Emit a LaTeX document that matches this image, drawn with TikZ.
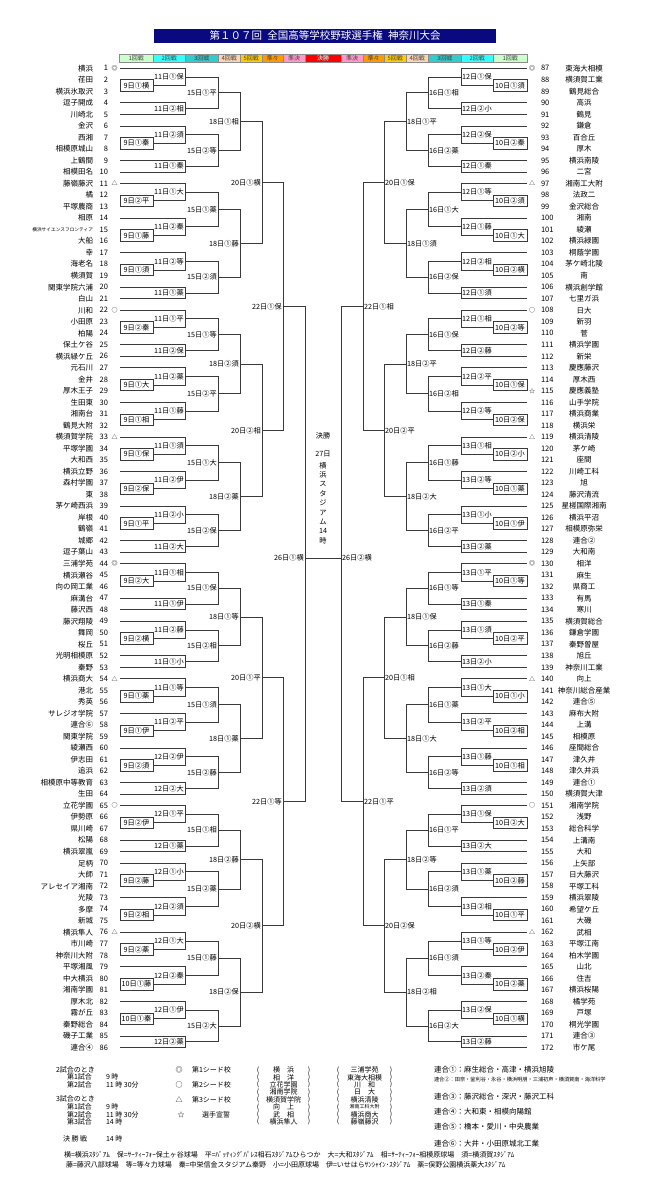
\documentclass[tikz,border=0pt]{standalone}
\usepackage{fontspec}
\setmainfont{Noto Sans CJK JP}
\usetikzlibrary{calc}

\definecolor{titleblue}{HTML}{0A0A80}
\definecolor{lineclr}{HTML}{3A3A3A}
\definecolor{rdone}{HTML}{CCFFCC}
\definecolor{rdtwo}{HTML}{33FFFF}
\definecolor{rdthree}{HTML}{33CCCC}
\definecolor{rdfour}{HTML}{FCD5B4}
\definecolor{rdfive}{HTML}{FFCC00}
\definecolor{rdqf}{HTML}{FF9900}
\definecolor{rdsf}{HTML}{FF99CC}
\definecolor{rdfinal}{HTML}{FF0000}

\tikzset{
  every node/.style={font=\fontsize{7.5}{8}\selectfont, inner sep=0.8pt},
  bline/.style={draw=lineclr, line width=0.8pt},
  teamL/.style={anchor=east},
  teamR/.style={anchor=center},
  numL/.style={anchor=east},
  numR/.style={anchor=west},
  seedmk/.style={font=\fontsize{6}{6}\selectfont, inner sep=0pt},
  labL/.style={anchor=east, inner sep=1pt, font=\fontsize{7.2}{8}\selectfont},
  labR/.style={anchor=west, inner sep=1pt, font=\fontsize{7.2}{8}\selectfont},
  boxlab/.style={font=\fontsize{7.2}{8}\selectfont},
  rdcell/.style={draw=black!45, line width=0.4pt, anchor=west, minimum height=8pt,
    inner sep=0pt, text=black!75, font=\fontsize{6}{6}\selectfont},
  lgd/.style={anchor=west, font=\fontsize{7}{7}\selectfont},
}

% first round: box between two teams
\newcommand{\firstbox}[5]{%
  \draw[bline] (#1) -- (#1 -| #3) -- (#2 -| #3) -- (#2) -- cycle;
  \coordinate (#4) at ($(#1 -| #3)!0.5!(#2 -| #3)$);
  \node[boxlab] (#4t) at ($(#1)!0.5!(#2 -| #3)$) {#5};
}
% later rounds
\newcommand{\matchup}[6]{%
  \draw[bline] (#2) -- (#2 -| #4) -- (#3 -| #4) -- (#3);
  \coordinate (#5) at ($(#2 -| #4)!0.5!(#3 -| #4)$);
  \node[lab#1] (#5t) at (#5) {#6};
}
% block: seed + first round pair, then a second round pair
\newcommand{\blkSP}[7]{%
  \edef\tmA{\number#2}%
  \edef\tmB{\the\numexpr#2+1\relax}%
  \edef\tmC{\the\numexpr#2+2\relax}%
  \edef\tmD{\the\numexpr#2+3\relax}%
  \edef\tmE{\the\numexpr#2+4\relax}%
  \firstbox{s#1\tmB}{s#1\tmC}{#1c1}{#7a}{#3}%
  \matchup{#1}{s#1\tmA}{#7a}{#1c2}{#7b}{#4}%
  \matchup{#1}{s#1\tmD}{s#1\tmE}{#1c2}{#7c}{#5}%
  \matchup{#1}{#7b}{#7c}{#1c3}{#7}{#6}%
}
% block: two units with a first round pair each
\newcommand{\blkSS}[8]{%
  \edef\tmA{\number#2}%
  \edef\tmB{\the\numexpr#2+1\relax}%
  \edef\tmC{\the\numexpr#2+2\relax}%
  \edef\tmD{\the\numexpr#2+3\relax}%
  \edef\tmE{\the\numexpr#2+4\relax}%
  \edef\tmF{\the\numexpr#2+5\relax}%
  \firstbox{s#1\tmB}{s#1\tmC}{#1c1}{#7a}{#3}%
  \matchup{#1}{s#1\tmA}{#7a}{#1c2}{#7b}{#4}%
  \firstbox{s#1\tmE}{s#1\tmF}{#1c1}{#7c}{#5}%
  \matchup{#1}{s#1\tmD}{#7c}{#1c2}{#7d}{#6}%
  \matchup{#1}{#7b}{#7d}{#1c3}{#7}{#8}%
}

\begin{document}
\begin{tikzpicture}[x=1pt,y=-1pt]

      \fill[white] (0,0) rectangle (655,1200);
      \useasboundingbox (0,0) rectangle (655,1200);

      % title and round header
      \node[fill=titleblue, text=white, minimum width=342pt, minimum height=14pt,
        inner sep=0pt, font=\fontsize{10.5}{11}\selectfont] (title) at (325,36)
        {第１０７回\hspace{0.5em}全国高等学校野球選手権\hspace{0.5em}神奈川大会};

      \foreach \x/\w/\c/\t [count=\i] in {119/34/rdone/1回戦, 153/32/rdtwo/2回戦,
          185/33/rdthree/3回戦, 218/22/rdfour/4回戦, 240/22/rdfive/5回戦,
          262/21/rdqf/準々, 283/22/rdsf/準決, 305/36/rdfinal/決勝,
          341/22/rdsf/準決, 363/21/rdqf/準々, 384/22/rdfive/5回戦,
          406/22/rdfour/4回戦, 428/33/rdthree/3回戦, 461/32/rdtwo/2回戦,
          493/34/rdone/1回戦}
        \node[rdcell, fill=\c, minimum width=\w pt] (hd\i) at (\x,58) {\t};
      \node[font=\fontsize{6}{6}\selectfont, text=white] (hdf) at (hd8) {決勝};

      % bracket columns
      \foreach \k/\xl/\xr in {1/153/493, 2/185/461, 3/218/428, 4/240/406,
          5/262/384, 6/283/363, 7/305/341} {
        \coordinate (Lc\k) at (\xl,0);
        \coordinate (Rc\k) at (\xr,0);
      }

      % teams, left half
      \foreach \n/\tm in {1/横浜, 2/荏田, 3/横浜氷取沢, 4/逗子開成, 5/川崎北, 6/金沢,
          7/西湘, 8/相模原城山, 9/上鶴間, 10/相模田名, 11/藤嶺藤沢, 12/橘, 13/平塚農商,
          14/相原, 15/{\fontsize{4.7}{5}\selectfont 横浜サイエンスフロンティア}, 16/大船,
          17/幸, 18/海老名, 19/横須賀, 20/関東学院六浦, 21/白山, 22/川和, 23/小田原,
          24/柏陽, 25/保土ケ谷, 26/横浜緑ケ丘, 27/元石川, 28/金井, 29/厚木王子,
          30/生田東, 31/湘南台, 32/鶴見大附, 33/横須賀学院, 34/平塚学園, 35/大和西,
          36/横浜立野, 37/森村学園, 38/東, 39/茅ケ崎西浜, 40/岸根, 41/鶴嶺, 42/城郷,
          43/逗子葉山, 44/三浦学苑, 45/横浜瀬谷, 46/向の岡工業, 47/麻溝台, 48/藤沢西,
          49/藤沢翔陵, 50/舞岡, 51/桜丘, 52/光明相模原, 53/秦野, 54/横浜商大, 55/港北,
          56/秀英, 57/サレジオ学院, 58/連合⑥, 59/関東学院, 60/綾瀬西, 61/伊志田,
          62/追浜, 63/相模原中等教育, 64/生田, 65/立花学園, 66/伊勢原, 67/県川崎,
          68/松陽, 69/横浜翠嵐, 70/足柄, 71/大師, 72/アレセイア湘南, 73/光陵, 74/多摩,
          75/新城, 76/横浜隼人, 77/市川崎, 78/神奈川大附, 79/平塚湘風, 80/中大横浜,
          81/湘南学園, 82/厚木北, 83/霧が丘, 84/秦野総合, 85/磯子工業, 86/連合④} {
        \pgfmathsetmacro\yy{68.3+(\n-1)*11.52}
        \node[teamL] (tL\n) at (94,\yy) {\tm};
        \node[numL] (nL\n) at (109,\yy) {\n};
        \coordinate (sL\n) at (120,\yy);
      }

      % teams, right half
      \foreach \n/\tm in {87/東海大相模, 88/横須賀工業, 89/鶴見総合, 90/高浜, 91/鶴見,
          92/鎌倉, 93/百合丘, 94/厚木, 95/横浜南陵, 96/二宮, 97/湘南工大附, 98/法政二,
          99/金沢総合, 100/湘南, 101/綾瀬, 102/横浜緑園, 103/桐蔭学園, 104/茅ケ崎北陵,
          105/南, 106/横浜創学館, 107/七里ガ浜, 108/日大, 109/新羽, 110/菅, 111/横浜学園,
          112/新栄, 113/慶應藤沢, 114/厚木西, 115/慶應義塾, 116/山手学院, 117/横浜商業,
          118/横浜栄, 119/横浜清陵, 120/茅ケ崎, 121/座間, 122/川崎工科, 123/旭,
          124/藤沢清流, 125/星槎国際湘南, 126/横浜平沼, 127/相模原弥栄, 128/連合②,
          129/大和南, 130/相洋, 131/麻生, 132/県商工, 133/有馬, 134/寒川, 135/横須賀総合,
          136/鎌倉学園, 137/秦野曽屋, 138/旭丘, 139/神奈川工業, 140/向上,
          141/神奈川総合産業, 142/連合⑤, 143/麻布大附, 144/上溝, 145/相模原, 146/座間総合,
          147/津久井, 148/津久井浜, 149/連合①, 150/横須賀大津, 151/湘南学院, 152/浅野,
          153/総合科学, 154/上溝南, 155/大和, 156/上矢部, 157/日大藤沢, 158/平塚工科,
          159/横浜翠陵, 160/希望ケ丘, 161/大磯, 162/武相, 163/平塚江南, 164/柏木学園,
          165/山北, 166/住吉, 167/横浜桜陽, 168/橘学苑, 169/戸塚, 170/桐光学園,
          171/連合③, 172/市ケ尾} {
        \pgfmathsetmacro\yy{68.3+(\n-87)*11.52}
        \node[teamR] (tR\n) at (584,\yy) {\tm};
        \node[numR] (nR\n) at (540,\yy) {\n};
        \coordinate (sR\n) at (527,\yy);
      }

      % seed marks
      \foreach \n/\m in {1/◎, 11/△, 22/○, 33/△, 44/◎, 54/△, 65/○, 76/△} {
        \pgfmathsetmacro\yy{68.3+(\n-1)*11.52}
        \node[seedmk] (mkL\n) at (114.5,\yy) {\m};
      }
      \foreach \n/\m in {87/◎, 97/△, 108/○, 115/☆, 119/△, 130/◎, 140/△, 151/○, 162/△} {
        \pgfmathsetmacro\yy{68.3+(\n-87)*11.52}
        \node[seedmk] (mkR\n) at (532,\yy) {\m};
      }

      % left half
      \blkSP{L}{1}{9日①横}{11日①保}{11日②相}{15日①平}{A1}
      \blkSP{L}{6}{9日①秦}{11日②須}{11日①秦}{15日②等}{A2}
      \matchup{L}{A1}{A2}{Lc4}{A12}{18日①相}
      \blkSS{L}{11}{9日②平}{11日①大}{9日①藤}{11日②秦}{A3}{15日①薬}
      \blkSP{L}{17}{9日①須}{11日②等}{11日①薬}{15日②須}{A4}
      \matchup{L}{A3}{A4}{Lc4}{A34}{18日①藤}
      \matchup{L}{A12}{A34}{Lc5}{AA}{20日①横}

      \blkSP{L}{22}{9日②秦}{11日①平}{11日②保}{15日①等}{B1}
      \blkSS{L}{27}{9日①大}{11日②薬}{9日①相}{11日①藤}{B2}{15日②平}
      \matchup{L}{B1}{B2}{Lc4}{B12}{18日②須}
      \blkSS{L}{33}{9日①保}{11日①須}{9日②保}{11日②伊}{B3}{15日①大}
      \blkSP{L}{39}{9日①平}{11日②小}{11日②大}{15日②保}{B4}
      \matchup{L}{B3}{B4}{Lc4}{B34}{18日②薬}
      \matchup{L}{B12}{B34}{Lc5}{BB}{20日②相}
      \matchup{L}{AA}{BB}{Lc6}{QL1}{22日①保}

      \blkSP{L}{44}{9日②大}{11日①相}{11日①伊}{15日①保}{C1}
      \blkSP{L}{49}{9日②横}{11日②藤}{11日①小}{15日②相}{C2}
      \matchup{L}{C1}{C2}{Lc4}{C12}{18日①等}
      \blkSS{L}{54}{9日①薬}{11日①等}{9日①伊}{11日②平}{C3}{15日①須}
      \blkSP{L}{60}{9日②須}{12日②伊}{12日②大}{15日②藤}{C4}
      \matchup{L}{C3}{C4}{Lc4}{C34}{18日①薬}
      \matchup{L}{C12}{C34}{Lc5}{CC}{20日①平}

      \blkSP{L}{65}{9日②伊}{12日①平}{12日①薬}{15日①相}{D1}
      \blkSS{L}{70}{9日②藤}{12日①小}{9日②相}{12日②須}{D2}{15日②薬}
      \matchup{L}{D1}{D2}{Lc4}{D12}{18日②藤}
      \blkSS{L}{76}{9日②薬}{12日①大}{10日①藤}{12日②秦}{D3}{15日①藤}
      \blkSP{L}{82}{10日①秦}{12日①伊}{12日②薬}{15日②大}{D4}
      \matchup{L}{D3}{D4}{Lc4}{D34}{18日②保}
      \matchup{L}{D12}{D34}{Lc5}{DD}{20日②横}
      \matchup{L}{CC}{DD}{Lc6}{QL2}{22日①等}

      % right half
      \blkSP{R}{87}{10日①須}{12日①保}{12日②小}{16日①相}{E1}
      \blkSP{R}{92}{10日②秦}{12日②保}{12日①秦}{16日②薬}{E2}
      \matchup{R}{E1}{E2}{Rc4}{E12}{18日①平}
      \blkSS{R}{97}{10日②須}{12日①等}{10日①大}{12日①藤}{E3}{16日①大}
      \blkSP{R}{103}{10日②横}{12日②相}{12日①須}{16日②保}{E4}
      \matchup{R}{E3}{E4}{Rc4}{E34}{18日①須}
      \matchup{R}{E12}{E34}{Rc5}{EE}{20日①保}

      \blkSP{R}{108}{10日②等}{12日①相}{12日②藤}{16日①保}{F1}
      \blkSS{R}{113}{10日①保}{12日②平}{10日②保}{12日②等}{F2}{16日②相}
      \matchup{R}{F1}{F2}{Rc4}{F12}{18日②平}
      \blkSS{R}{119}{10日②小}{13日①相}{10日①薬}{13日②等}{F3}{16日①藤}
      \blkSP{R}{125}{10日①伊}{13日①小}{13日②薬}{16日②平}{F4}
      \matchup{R}{F3}{F4}{Rc4}{F34}{18日②大}
      \matchup{R}{F12}{F34}{Rc5}{FF}{20日②平}
      \matchup{R}{EE}{FF}{Rc6}{QR1}{22日①相}

      \blkSP{R}{130}{10日①等}{13日①平}{13日①秦}{16日①等}{G1}
      \blkSP{R}{135}{10日②平}{13日①須}{13日②小}{16日②藤}{G2}
      \matchup{R}{G1}{G2}{Rc4}{G12}{18日①保}
      \blkSS{R}{140}{10日①小}{13日①大}{10日②相}{13日②平}{G3}{16日①薬}
      \blkSP{R}{146}{10日①相}{13日①藤}{13日②須}{16日②等}{G4}
      \matchup{R}{G3}{G4}{Rc4}{G34}{18日①大}
      \matchup{R}{G12}{G34}{Rc5}{GG}{20日①相}

      \blkSP{R}{151}{10日②大}{13日①保}{13日②大}{16日①平}{H1}
      \blkSS{R}{156}{10日②藤}{13日①薬}{10日①平}{13日②相}{H2}{16日②須}
      \matchup{R}{H1}{H2}{Rc4}{H12}{18日②等}
      \blkSS{R}{162}{10日②伊}{13日①等}{10日②薬}{13日②秦}{H3}{16日①須}
      \blkSP{R}{168}{10日①横}{13日②保}{13日②藤}{16日②大}{H4}
      \matchup{R}{H3}{H4}{Rc4}{H34}{18日②相}
      \matchup{R}{H12}{H34}{Rc5}{HH}{20日②保}
      \matchup{R}{GG}{HH}{Rc6}{QR2}{22日①平}

      % semifinals and final
      \coordinate (fin) at (323,558);
      \coordinate (SL) at (fin -| Lc7);
      \coordinate (SR) at (fin -| Rc7);
      \draw[bline] (QL1) -- (QL1 -| Lc7) -- (QL2 -| Lc7) -- (QL2);
      \draw[bline] (QR1) -- (QR1 -| Rc7) -- (QR2 -| Rc7) -- (QR2);
      \draw[bline] (SL) -- (SR);
      \node[labL] (SLt) at (SL) {26日①横};
      \node[labR] (SRt) at (SR) {26日②横};

      \node[font=\fontsize{7.2}{8}\selectfont] (finA) at (323,436) {決勝};
      \node[font=\fontsize{7.2}{8}\selectfont] (finB) at (323,454) {27日};
      \node[align=center, anchor=north, font=\fontsize{7.2}{9.4}\selectfont] (finC) at (323,461)
        {横\\浜\\ス\\タ\\ジ\\ア\\ム\\14\\時};

      % notes
      \node[lgd] (g2) at (55,1070) {2試合のとき};
      \node[lgd] (g2a) at (66,1077) {第1試合};
      \node[lgd] (g2at) at (105,1077) {9 時};
      \node[lgd] (g2b) at (66,1084.5) {第2試合};
      \node[lgd] (g2bt) at (105,1084.5) {11 時 30分};
      \node[lgd] (g3) at (55,1098.5) {3試合のとき};
      \node[lgd] (g3a) at (66,1106.5) {第1試合};
      \node[lgd] (g3at) at (105,1106.5) {9 時};
      \node[lgd] (g3b) at (66,1114.5) {第2試合};
      \node[lgd] (g3bt) at (105,1114.5) {11 時 30分};
      \node[lgd] (g3c) at (66,1122) {第3試合};
      \node[lgd] (g3ct) at (105,1122) {14 時};
      \node[lgd] (gf) at (62,1138.5) {決 勝 戦};
      \node[lgd] (gft) at (105,1138.5) {14 時};

      \node[font=\fontsize{7}{7}\selectfont] (sm1) at (179,1070) {◎};
      \node[lgd] (st1) at (191,1070) {第1シード校};
      \node[font=\fontsize{7}{7}\selectfont] (sm2) at (179,1084.8) {○};
      \node[lgd] (st2) at (191,1084.8) {第2シード校};
      \node[font=\fontsize{7}{7}\selectfont] (sm3) at (179,1099.6) {△};
      \node[lgd] (st3) at (191,1099.6) {第3シード校};
      \node[font=\fontsize{7}{7}\selectfont] (sm4) at (181,1114.4) {☆};
      \node[lgd] (st4) at (201,1114.4) {選手宣誓};

      \begin{scope}[every node/.style={font=\fontsize{7}{7}\selectfont, inner sep=0pt}]
        \foreach \a/\b [count=\i from 0] in {横　浜/三浦学苑, 相　洋/東海大相模,
            立花学園/川　和, 湘南学院/日　大, 横須賀学院/横浜清陵,
            向　上/{\fontsize{5}{5}\selectfont 湘南工科大附}, 武　相/横浜商大,
            横浜隼人/藤嶺藤沢} {
          \pgfmathsetmacro\yy{1070+\i*7.4}
          \node (pa\i) at (258,\yy) {(};
          \node (pb\i) at (283.5,\yy) {\a};
          \node (pc\i) at (309,\yy) {)};
          \node (pd\i) at (338,\yy) {(};
          \node (pe\i) at (364.5,\yy) {\b};
          \node (pf\i) at (391,\yy) {)};
        }
      \end{scope}

      \node[lgd, font=\fontsize{7.5}{8}\selectfont] (ur1) at (433,1070) {連合①：麻生総合・高津・横浜旭陵};
      \node[lgd, font=\fontsize{5.2}{6}\selectfont] (ur2) at (433,1080)
        {連合②：田奈・釜利谷・永谷・横浜明朋・三浦初声・横須賀南・海洋科学};
      \node[lgd, font=\fontsize{7.5}{8}\selectfont] (ur3) at (433,1096.7) {連合③：藤沢総合・深沢・藤沢工科};
      \node[lgd, font=\fontsize{7.5}{8}\selectfont] (ur4) at (433,1111.7) {連合④：大和東・相模向陽館};
      \node[lgd, font=\fontsize{7.5}{8}\selectfont] (ur5) at (433,1126.7) {連合⑤：橋本・愛川・中央農業};
      \node[lgd, font=\fontsize{7.5}{8}\selectfont] (ur6) at (433,1143.3) {連合⑥：大井・小田原城北工業};

      \node[lgd, font=\fontsize{7}{7}\selectfont] (ft1) at (63,1155)
        {横=横浜ｽﾀｼﾞｱﾑ　保=ｻｰﾃｨｰﾌｫｰ保土ヶ谷球場　平=ﾊﾞｯﾃｨﾝｸﾞﾊﾟﾚｽ相石ｽﾀｼﾞｱﾑひらつか　大=大和ｽﾀｼﾞｱﾑ　相=ｻｰﾃｨｰﾌｫｰ相模原球場　須=横須賀ｽﾀｼﾞｱﾑ};
      \node[lgd, font=\fontsize{7}{7}\selectfont] (ft2) at (65,1165)
        {藤=藤沢八部球場　等=等々力球場　秦=中栄信金スタジアム秦野　小=小田原球場　伊=いせはらｻﾝｼｬｲﾝ･ｽﾀｼﾞｱﾑ　薬=俣野公園横浜薬大ｽﾀｼﾞｱﾑ};

    \end{tikzpicture}
\end{document}
